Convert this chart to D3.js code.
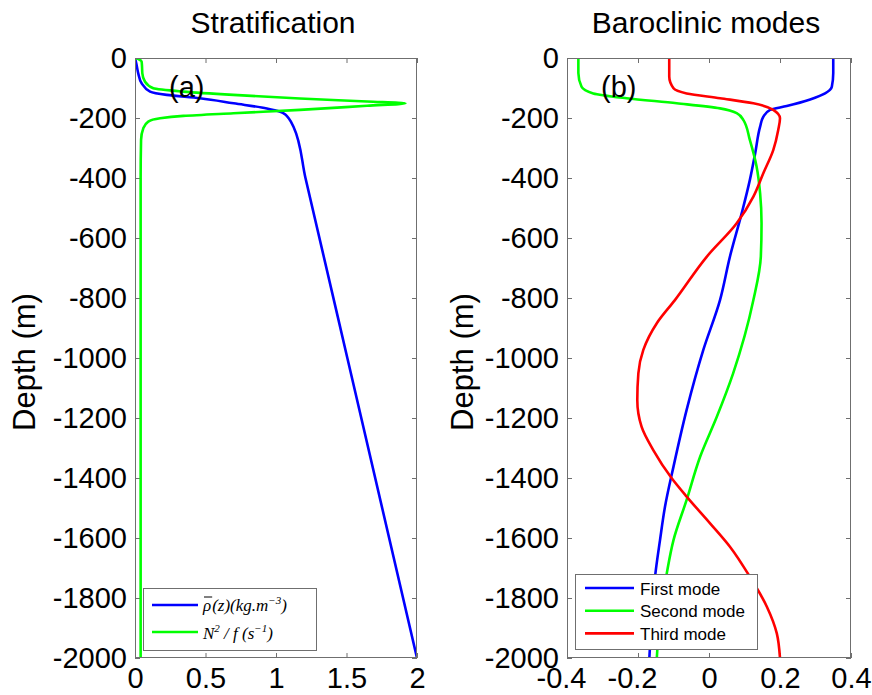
<!DOCTYPE html>
<html>
<head>
<meta charset="utf-8">
<script src="https://cdn.jsdelivr.net/npm/d3@7/dist/d3.min.js"></script>
<style>
  html, body { margin: 0; padding: 0; background: #fff; }
  svg { display: block; }
  text { font-family: "Liberation Sans", Arial, Helvetica, sans-serif; fill: #000; }
</style>
</head>
<body>
<svg id="chart" width="872" height="695"></svg>
<script>
// ---- Panel (a): stratification profiles ----
const rhoDepth = [0, -20, -51, -84, -112, -123, -134, -151, -168, -179, -190, -201, -229, -400, -1000, -2000];
const rhoValue = [0, 0.01, 0.023, 0.047, 0.107, 0.225, 0.46, 0.70, 0.935, 1.03, 1.07, 1.09, 1.124, 1.209, 1.506, 2.0];

const n2Depth = [0, -5, -12, -30, -51, -79, -101, -112, -123, -135, -145, -151, -159, -173, -184, -193, -201, -212, -234, -273, -400, -2000];
const n2Value = [0, 0.03, 0.047, 0.05, 0.052, 0.071, 0.13, 0.343, 0.698, 1.17, 1.646, 1.918, 1.646, 1.17, 0.698, 0.343, 0.178, 0.094, 0.059, 0.043, 0.04, 0.04];

// ---- Panel (b): first three baroclinic modes ----
const mode1Depth = [0, -50, -96, -118, -138, -160, -173, -196, -229, -318, -407, -518, -662, -807, -973, -1173, -1362, -1496, -1607, -1729, -1862, -2000];
const mode1Value = [0.35, 0.35, 0.346, 0.327, 0.285, 0.219, 0.172, 0.153, 0.144, 0.130, 0.115, 0.092, 0.059, 0.031, -0.016, -0.063, -0.10, -0.124, -0.138, -0.152, -0.161, -0.168];

const mode2Depth = [0, -50, -96, -118, -134, -151, -168, -184, -207, -273, -362, -451, -551, -662, -807, -1051, -1196, -1329, -1473, -1607, -1718, -1862, -2000];
const mode2Value = [-0.368, -0.368, -0.359, -0.326, -0.232, -0.091, 0.031, 0.078, 0.097, 0.115, 0.134, 0.144, 0.148, 0.146, 0.125, 0.068, 0.022, -0.025, -0.063, -0.10, -0.119, -0.138, -0.147];

const mode3Depth = [0, -62, -101, -118, -134, -151, -173, -201, -240, -307, -384, -462, -551, -662, -807, -884, -973, -1051, -1140, -1229, -1307, -1401, -1462, -1551, -1629, -1729, -1829, -1918, -2000];
const mode3Value = [-0.112, -0.112, -0.10, -0.063, 0.031, 0.125, 0.181, 0.2, 0.195, 0.181, 0.153, 0.125, 0.078, -0.006, -0.096, -0.147, -0.185, -0.199, -0.202, -0.19, -0.157, -0.105, -0.063, 0.003, 0.059, 0.115, 0.163, 0.191, 0.2];

// ---- Tick labels ----
const depthTicks = [0, -200, -400, -600, -800, -1000, -1200, -1400, -1600, -1800, -2000];
const xTicksA = [0, 0.5, 1, 1.5, 2];
const xTicksB = [-0.4, -0.2, 0, 0.2, 0.4];

const titleA = "Stratification";
const titleB = "Baroclinic modes";
const yLabel = "Depth (m)";
const modeNames = ["First mode", "Second mode", "Third mode"];

const BLUE = "#0000ff", GREEN = "#00ff00", RED = "#ff0000";
const AXIS = "#6f6f6f";

const svg = d3.select("#chart");
const plotTop = 58, plotBottom = 658;
const y = d3.scaleLinear().domain([0, -2000]).range([plotTop, plotBottom]);

function zip(depths, values) {
  return depths.map((d, i) => ({ d, v: values[i] }));
}

function drawPanel(opts) {
  const x = d3.scaleLinear().domain(opts.xDomain).range([opts.left, opts.right]);
  const g = svg.append("g");
  const clipId = "clip-" + opts.id;
  svg.append("clipPath").attr("id", clipId)
    .append("rect").attr("x", opts.left).attr("y", plotTop)
    .attr("width", opts.right - opts.left).attr("height", plotBottom - plotTop);

  // axes with inward ticks on all four sides
  const leftAx = d3.axisLeft(y).tickValues(depthTicks).tickFormat(d => String(d))
    .tickSizeInner(-5).tickSizeOuter(0).tickPadding(8);
  const rightAx = d3.axisRight(y).tickValues(depthTicks).tickFormat("")
    .tickSizeInner(-5).tickSizeOuter(0);
  const bottomAx = d3.axisBottom(x).tickValues(opts.xTicks).tickFormat(d => String(d))
    .tickSizeInner(-5).tickSizeOuter(0).tickPadding(9);
  const topAx = d3.axisTop(x).tickValues(opts.xTicks).tickFormat("")
    .tickSizeInner(-5).tickSizeOuter(0);

  const axes = [
    g.append("g").attr("transform", `translate(${opts.left},0)`).call(leftAx),
    g.append("g").attr("transform", `translate(${opts.right},0)`).call(rightAx),
    g.append("g").attr("transform", `translate(0,${plotBottom})`).call(bottomAx),
    g.append("g").attr("transform", `translate(0,${plotTop})`).call(topAx)
  ];
  axes.forEach(a => {
    a.select(".domain").remove();
    a.selectAll(".tick line").attr("stroke", AXIS).attr("stroke-width", 1);
    a.selectAll(".tick text").attr("font-size", 29).attr("fill", "#000")
      .style("font-family", '"Liberation Sans", Arial, sans-serif');
  });
  // negative x labels: centre the digits on the tick, minus sign hangs left
  axes[2].selectAll(".tick text").attr("dx", d => d < 0 ? -6 : 0);

  // profiles
  const line = d3.line().x(p => x(p.v)).y(p => y(p.d)).curve(d3.curveMonotoneY);
  const lg = g.append("g").attr("clip-path", `url(#${clipId})`);
  opts.series.forEach(s => {
    lg.append("path").datum(zip(s.depth, s.value))
      .attr("d", line).attr("fill", "none")
      .attr("stroke", s.color).attr("stroke-width", 2.6)
      .attr("stroke-linejoin", "round");
  });

  // frame
  g.append("rect").attr("x", opts.left + 0.5).attr("y", plotTop + 0.5)
    .attr("width", opts.right - opts.left - 1).attr("height", plotBottom - plotTop - 1)
    .attr("fill", "none").attr("stroke", AXIS).attr("stroke-width", 1);

  // title, panel tag and depth label
  g.append("text").attr("x", (opts.left + opts.right) / 2 - 3).attr("y", 33)
    .attr("text-anchor", "middle").attr("font-size", 30).text(opts.title);
  g.append("text").attr("x", opts.left + 34).attr("y", 97)
    .attr("font-size", 29).text(opts.tag);
  g.append("text")
    .attr("transform", `translate(${opts.labelX},362) rotate(-90)`)
    .attr("text-anchor", "middle").attr("font-size", 31).text(yLabel);

  return { g, x };
}

// Panel (a)
drawPanel({
  id: "a", left: 135, right: 417, xDomain: [0, 2], xTicks: xTicksA,
  title: titleA, tag: "(a)", labelX: 35,
  series: [
    { depth: rhoDepth, value: rhoValue, color: BLUE },
    { depth: n2Depth, value: n2Value, color: GREEN }
  ]
});

// Panel (b)
drawPanel({
  id: "b", left: 567, right: 851, xDomain: [-0.4, 0.4], xTicks: xTicksB,
  title: titleB, tag: "(b)", labelX: 473,
  series: [
    { depth: mode1Depth, value: mode1Value, color: BLUE },
    { depth: mode2Depth, value: mode2Value, color: GREEN },
    { depth: mode3Depth, value: mode3Value, color: RED }
  ]
});

// ---- Legend (a): math-style labels ----
{
  const lg = svg.append("g");
  lg.append("rect").attr("x", 143.5).attr("y", 588.5).attr("width", 173).attr("height", 62)
    .attr("fill", "#fff").attr("stroke", AXIS).attr("stroke-width", 1);
  const rows = [{ y: 605, c: BLUE }, { y: 632, c: GREEN }];
  rows.forEach(r => {
    lg.append("line").attr("x1", 152).attr("x2", 198).attr("y1", r.y).attr("y2", r.y)
      .attr("stroke", r.c).attr("stroke-width", 2.6);
  });
  const serif = '"Liberation Serif", "DejaVu Serif", "Times New Roman", serif';
  // rho with overbar
  const rho = lg.append("text").attr("x", 203).attr("y", 611)
    .style("font-family", serif).style("font-style", "italic").attr("font-size", 17).text("ρ");
  const rw = rho.node().getComputedTextLength();
  lg.append("line").attr("x1", 204).attr("x2", 203 + rw + 1).attr("y1", 597).attr("y2", 597)
    .attr("stroke", "#000").attr("stroke-width", 1);
  const t1 = lg.append("text").attr("x", 203 + rw + 1).attr("y", 611)
    .style("font-family", serif).style("font-style", "italic").attr("font-size", 17);
  t1.append("tspan").text("(z)(kg.m");
  t1.append("tspan").attr("dy", -7).attr("font-size", 11).text("−3");
  t1.append("tspan").attr("dy", 7).text(")");

  const t2 = lg.append("text").attr("x", 203).attr("y", 639)
    .style("font-family", serif).style("font-style", "italic").attr("font-size", 17);
  t2.append("tspan").text("N");
  t2.append("tspan").attr("dy", -7).attr("font-size", 11).text("2");
  t2.append("tspan").attr("dy", 7).text(" / f (s");
  t2.append("tspan").attr("dy", -7).attr("font-size", 11).text("−1");
  t2.append("tspan").attr("dy", 7).text(")");
}

// ---- Legend (b) ----
{
  const lg = svg.append("g");
  lg.append("rect").attr("x", 575.5).attr("y", 574.5).attr("width", 182).attr("height", 75)
    .attr("fill", "#fff").attr("stroke", AXIS).attr("stroke-width", 1);
  const colors = [BLUE, GREEN, RED];
  modeNames.forEach((name, i) => {
    const ly = 588 + i * 22.7;
    lg.append("line").attr("x1", 585).attr("x2", 634).attr("y1", ly).attr("y2", ly)
      .attr("stroke", colors[i]).attr("stroke-width", 2.6);
    lg.append("text").attr("x", 640).attr("y", ly + 6.5).attr("font-size", 17).text(name);
  });
}
</script>
</body>
</html>
